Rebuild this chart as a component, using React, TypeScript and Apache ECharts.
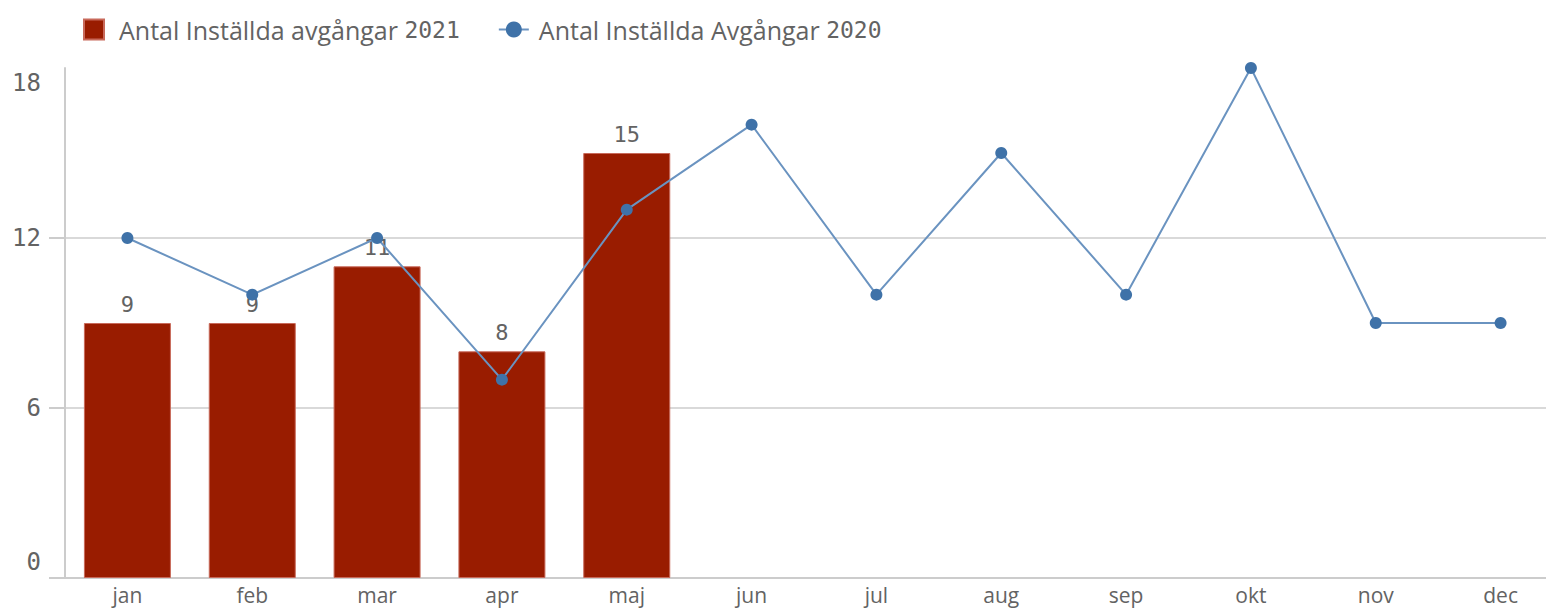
import React, { useEffect, useRef } from "react";
import * as echarts from "echarts";

const months = ["jan", "feb", "mar", "apr", "maj", "jun", "jul", "aug", "sep", "okt", "nov", "dec"];
const cancelled2021 = [9, 9, 11, 8, 15];
const cancelled2020 = [12, 10, 12, 7, 13, 16, 10, 15, 10, 18, 9, 9];
const yTicks = [0, 6, 12, 18];
const name2021 = "Antal Inställda avgångar 2021";
const name2020 = "Antal Inställda Avgångar 2020";

const FONT = "'Open Sans', 'Noto Sans', sans-serif";
const MONO = "'DejaVu Sans Mono', monospace";
const GREY = "#636363";

export default function App() {
  const ref = useRef<HTMLDivElement>(null);
  useEffect(() => {
    const chart = echarts.init(ref.current!, null, { renderer: "svg" });
    chart.setOption({
      animation: false,
      textStyle: { fontFamily: FONT },
      legend: {
        left: 78,
        top: 12,
        itemWidth: 30,
        itemHeight: 20,
        itemGap: 38,
        symbolKeepAspect: true,
        formatter: (name: string) => {
          const m = name.match(/^(.*) (\d+)$/);
          if (!m) return `{t|${name}}`;
          return `{t|${m[1]} }{d|${m[2]}}`;
        },
        textStyle: {
          color: GREY,
          fontSize: 25,
          fontFamily: FONT,
          rich: {
            t: { color: GREY, fontSize: 25, fontFamily: FONT, padding: [0, 0, 0, 5] },
            d: { color: GREY, fontSize: 23, fontFamily: MONO },
          },
        },
        data: [
          { name: name2021, icon: "path://M0,0H20V20H0Z" },
          { name: name2020 },
        ],
      },
      grid: { left: 65, right: 0, top: 68, bottom: 32, containLabel: false },
      xAxis: {
        type: "category",
        data: months,
        axisLine: { show: true, lineStyle: { color: "#cccccc", width: 2 } },
        axisTick: { show: false },
        axisLabel: { color: GREY, fontSize: 21, margin: 5, lineHeight: 24, fontFamily: FONT },
      },
      yAxis: {
        type: "value",
        min: 0,
        max: 18,
        interval: 6,
        axisLine: { show: true, lineStyle: { color: "#cccccc", width: 2 } },
        axisTick: {
          show: true,
          length: 16,
          customValues: [0, 6, 12],
          lineStyle: { color: "#cccccc", width: 2 },
        },
        splitLine: { show: true, lineStyle: { color: "#d9d9d9", width: 2 } },
        axisLabel: {
          color: GREY,
          fontSize: 24,
          margin: 24,
          fontFamily: MONO,
          customValues: yTicks,
          formatter: (v: number) => {
            if (v === 0) return "{lo|0}";
            if (v === 18) return "{hi|18}";
            return String(v);
          },
          rich: {
            lo: { color: GREY, fontSize: 24, fontFamily: MONO, padding: [0, 0, 32, 0] },
            hi: { color: GREY, fontSize: 24, fontFamily: MONO, padding: [30, 0, 0, 0] },
          },
        },
      },
      series: [
        {
          name: name2021,
          type: "bar",
          data: cancelled2021,
          barWidth: 87,
          itemStyle: { color: "#991c00", borderColor: "#c8695a", borderWidth: 1 },
          label: {
            show: true,
            position: "top",
            distance: 8,
            color: GREY,
            fontSize: 22,
            fontFamily: MONO,
          },
          z: 2,
        },
        {
          name: name2020,
          type: "line",
          data: cancelled2020,
          symbol: "circle",
          symbolSize: 12,
          lineStyle: { color: "#6a93c0", width: 2 },
          itemStyle: { color: "#3f72a8" },
          z: 3,
        },
      ],
    });
    return () => chart.dispose();
  }, []);
  return (
    <div
      style={{ position: "fixed", left: 0, top: 0, width: 1546, height: 610, overflow: "hidden", background: "#ffffff" }}
    >
      <div ref={ref} style={{ width: 1563, height: 610 }} />
    </div>
  );
}
